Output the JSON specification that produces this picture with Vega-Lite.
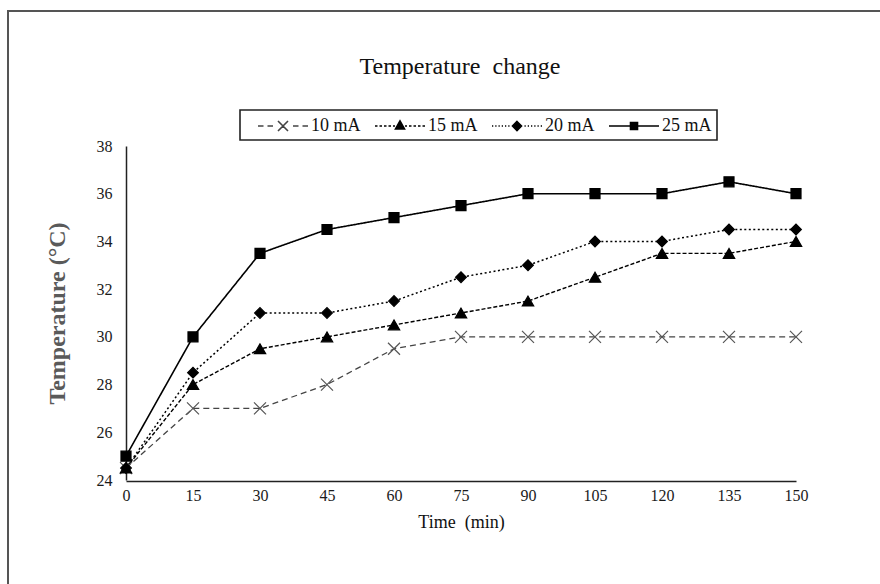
{
  "$schema": "https://vega.github.io/schema/vega-lite/v6.json",
  "autosize": {"type": "none"},
  "width": 874,
  "height": 575,
  "padding": {"left": 8, "top": 11, "right": -2, "bottom": -2},
  "background": "white",
  "config": {
    "view": {"stroke": "#555555", "strokeWidth": 2},
    "font": "Liberation Serif",
    "legend": {"strokeWidth": 1.6}
  },
  "title": {
    "text": "Temperature\u00a0 change",
    "font": "Liberation Serif",
    "fontSize": 24,
    "fontWeight": "normal",
    "color": "#111111",
    "anchor": "middle",
    "baseline": "alphabetic",
    "offset": -87,
    "dx": 15
  },
  "data": {
    "values": [
      {"time": 0, "current": "10 mA", "temp": 24.5},
      {"time": 15, "current": "10 mA", "temp": 27},
      {"time": 30, "current": "10 mA", "temp": 27},
      {"time": 45, "current": "10 mA", "temp": 28},
      {"time": 60, "current": "10 mA", "temp": 29.5},
      {"time": 75, "current": "10 mA", "temp": 30},
      {"time": 90, "current": "10 mA", "temp": 30},
      {"time": 105, "current": "10 mA", "temp": 30},
      {"time": 120, "current": "10 mA", "temp": 30},
      {"time": 135, "current": "10 mA", "temp": 30},
      {"time": 150, "current": "10 mA", "temp": 30},
      {"time": 0, "current": "15 mA", "temp": 24.5},
      {"time": 15, "current": "15 mA", "temp": 28},
      {"time": 30, "current": "15 mA", "temp": 29.5},
      {"time": 45, "current": "15 mA", "temp": 30},
      {"time": 60, "current": "15 mA", "temp": 30.5},
      {"time": 75, "current": "15 mA", "temp": 31},
      {"time": 90, "current": "15 mA", "temp": 31.5},
      {"time": 105, "current": "15 mA", "temp": 32.5},
      {"time": 120, "current": "15 mA", "temp": 33.5},
      {"time": 135, "current": "15 mA", "temp": 33.5},
      {"time": 150, "current": "15 mA", "temp": 34},
      {"time": 0, "current": "20 mA", "temp": 24.5},
      {"time": 15, "current": "20 mA", "temp": 28.5},
      {"time": 30, "current": "20 mA", "temp": 31},
      {"time": 45, "current": "20 mA", "temp": 31},
      {"time": 60, "current": "20 mA", "temp": 31.5},
      {"time": 75, "current": "20 mA", "temp": 32.5},
      {"time": 90, "current": "20 mA", "temp": 33},
      {"time": 105, "current": "20 mA", "temp": 34},
      {"time": 120, "current": "20 mA", "temp": 34},
      {"time": 135, "current": "20 mA", "temp": 34.5},
      {"time": 150, "current": "20 mA", "temp": 34.5},
      {"time": 0, "current": "25 mA", "temp": 25},
      {"time": 15, "current": "25 mA", "temp": 30},
      {"time": 30, "current": "25 mA", "temp": 33.5},
      {"time": 45, "current": "25 mA", "temp": 34.5},
      {"time": 60, "current": "25 mA", "temp": 35},
      {"time": 75, "current": "25 mA", "temp": 35.5},
      {"time": 90, "current": "25 mA", "temp": 36},
      {"time": 105, "current": "25 mA", "temp": 36},
      {"time": 120, "current": "25 mA", "temp": 36},
      {"time": 135, "current": "25 mA", "temp": 36.5},
      {"time": 150, "current": "25 mA", "temp": 36}
    ]
  },
  "encoding": {
    "x": {
      "field": "time",
      "type": "quantitative",
      "scale": {"domain": [0, 150], "range": [118, 788], "nice": false, "zero": false},
      "axis": {
        "orient": "bottom",
        "offset": -105,
        "title": "Time\u00a0 (min)",
        "values": [0, 15, 30, 45, 60, 75, 90, 105, 120, 135, 150],
        "grid": false,
        "ticks": false,
        "domainColor": "#222222",
        "domainWidth": 1.5,
        "labelFont": "Liberation Serif",
        "labelFontSize": 16,
        "labelColor": "#1a1a1a",
        "labelPadding": 6,
        "labelFlush": false,
        "titleFont": "Liberation Serif",
        "titleFontSize": 18,
        "titleFontWeight": "normal",
        "titleColor": "#111111",
        "titlePadding": 10
      }
    },
    "y": {
      "field": "temp",
      "type": "quantitative",
      "scale": {"domain": [24, 38], "range": [469, 135], "nice": false, "zero": false},
      "axis": {
        "orient": "left",
        "offset": -118,
        "title": "Temperature (°C)",
        "values": [24, 26, 28, 30, 32, 34, 36, 38],
        "grid": false,
        "ticks": false,
        "domainColor": "#222222",
        "domainWidth": 1.5,
        "labelFont": "Liberation Serif",
        "labelFontSize": 16,
        "labelColor": "#1a1a1a",
        "labelPadding": 14,
        "labelFlush": false,
        "titleFont": "Liberation Serif",
        "titleFontSize": 24,
        "titleFontWeight": "bold",
        "titleColor": "#5a5a5a",
        "titlePadding": 27
      }
    }
  },
  "layer": [
    {
      "mark": {"type": "line"},
      "encoding": {
        "strokeDash": {
          "field": "current",
          "type": "nominal",
          "scale": {"domain": ["10 mA", "15 mA", "20 mA", "25 mA"], "range": [[6, 4], [4, 2], [2, 2.5], [1, 0]]},
          "legend": null
        },
        "strokeWidth": {
          "field": "current",
          "type": "nominal",
          "scale": {"domain": ["10 mA", "15 mA", "20 mA", "25 mA"], "range": [1.3, 1.6, 2.6, 1.3]},
          "legend": null
        },
        "stroke": {
          "field": "current",
          "type": "nominal",
          "scale": {"domain": ["10 mA", "15 mA", "20 mA", "25 mA"], "range": ["#444444", "#000000", "#000000", "#000000"]},
          "legend": null
        }
      }
    },
    {
      "mark": {"type": "point", "filled": true, "opacity": 1, "strokeWidth": 1.2},
      "encoding": {
        "shape": {
          "field": "current",
          "type": "nominal",
          "scale": {"domain": ["10 mA", "15 mA", "20 mA", "25 mA"], "range": ["M-1,-1L1,1M-1,1L1,-1", "triangle-up", "diamond", "square"]},
          "legend": null
        },
        "size": {
          "field": "current",
          "type": "nominal",
          "scale": {"domain": ["10 mA", "15 mA", "20 mA", "25 mA"], "range": [144, 100, 100, 49]},
          "legend": null
        },
        "fill": {
          "field": "current",
          "type": "nominal",
          "scale": {"domain": ["10 mA", "15 mA", "20 mA", "25 mA"], "range": ["#555555", "#000000", "#000000", "#000000"]},
          "legend": null
        },
        "stroke": {
          "field": "current",
          "type": "nominal",
          "scale": {"domain": ["10 mA", "15 mA", "20 mA", "25 mA"], "range": ["#555555", "#000000", "#000000", "#000000"]},
          "legend": null
        }
      }
    },
    {
      "mark": {"type": "point", "filled": true, "fill": "black", "opacity": 0, "size": 400},
      "encoding": {
        "shape": {
          "field": "current",
          "type": "nominal",
          "scale": {
            "domain": ["10 mA", "15 mA", "20 mA", "25 mA"],
            "range": [
              "M-2.5,0H-1.95M-1.55,0H-1M-0.5,-0.5L0.5,0.5M-0.5,0.5L0.5,-0.5M1,0H1.55M1.95,0H2.5",
              "M-2.5,0H-2.25M-2.05,0H-1.8M-1.6,0H-1.35M-1.15,0H-0.9M-0.7,0H-0.5M0,-0.5L0.45,0.3L-0.45,0.3ZM0.5,0H0.7M0.9,0H1.15M1.35,0H1.6M1.8,0H2.05M2.25,0H2.5",
              "M-2.5,0H-2.375M-2.175,0H-2.05M-1.85,0H-1.725M-1.525,0H-1.4M-1.2,0H-1.075M-0.875,0H-0.75M0,-0.45L0.45,0L0,0.45L-0.45,0ZM0.75,0H0.875M1.075,0H1.2M1.4,0H1.525M1.725,0H1.85M2.05,0H2.175M2.375,0H2.5",
              "M-2.5,0H2.5M-0.35,-0.35H0.35V0.35H-0.35Z"
            ]
          },
          "legend": {
            "title": null,
            "orient": "none",
            "legendX": 232,
            "legendY": 99,
            "direction": "horizontal",
            "columns": 4,
            "columnPadding": 1,
            "padding": 5,
            "strokeColor": "#222222",
            "symbolSize": 400,
            "symbolStrokeWidth": 1.6,
            "symbolOffset": 27,
            "symbolFillColor": "black",
            "symbolOpacity": 1,
            "labelFont": "Liberation Serif",
            "labelFontSize": 18,
            "labelColor": "#111111",
            "labelOffset": 17
          }
        },
        "stroke": {
          "field": "current",
          "type": "nominal",
          "scale": {"domain": ["10 mA", "15 mA", "20 mA", "25 mA"], "range": ["#444444", "#000000", "#000000", "#000000"]},
          "legend": {
            "title": null,
            "orient": "none",
            "legendX": 232,
            "legendY": 99,
            "direction": "horizontal",
            "columns": 4,
            "columnPadding": 1,
            "padding": 5,
            "strokeColor": "#222222",
            "symbolSize": 400,
            "symbolStrokeWidth": 1.6,
            "symbolOffset": 27,
            "symbolFillColor": "black",
            "symbolOpacity": 1,
            "labelFont": "Liberation Serif",
            "labelFontSize": 18,
            "labelColor": "#111111",
            "labelOffset": 17
          }
        }
      }
    }
  ],
  "resolve": {"scale": {"shape": "independent", "stroke": "independent"}}
}
